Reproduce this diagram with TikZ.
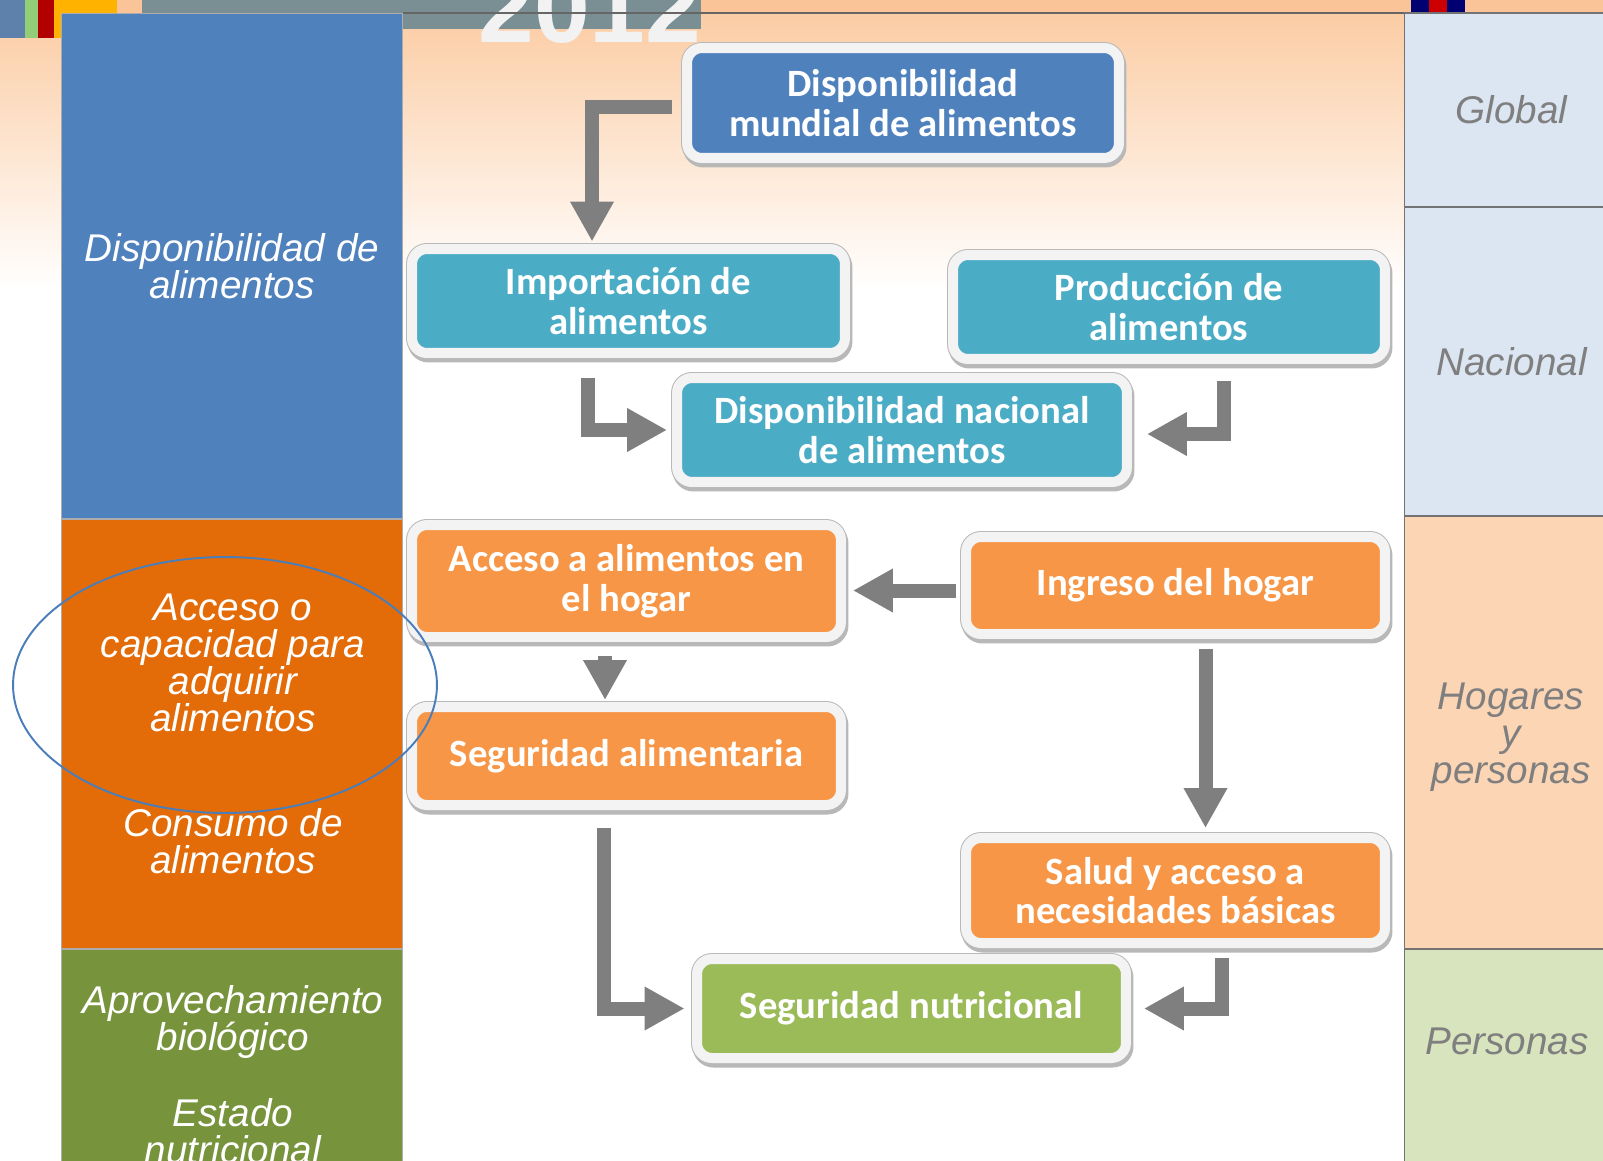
\documentclass[tikz,border=0pt]{standalone}
\usepackage{fontspec}
\setmainfont{Carlito}
\newfontfamily\arialfont{Liberation Sans}
\usetikzlibrary{arrows.meta, calc, positioning}
\definecolor{peachtop}{RGB}{251,202,160}
\definecolor{bandpeach}{RGB}{250,196,152}
\definecolor{barslate}{RGB}{122,143,148}
\definecolor{colblue}{RGB}{79,129,189}
\definecolor{colorange}{RGB}{227,108,9}
\definecolor{colgreen}{RGB}{119,147,60}
\definecolor{boxblue}{RGB}{79,129,189}
\definecolor{boxteal}{RGB}{75,172,198}
\definecolor{boxorange}{RGB}{247,150,70}
\definecolor{boxgreen}{RGB}{155,187,89}
\definecolor{lvlblue}{RGB}{220,230,242}
\definecolor{lvlpeach}{RGB}{252,213,181}
\definecolor{lvlgreen}{RGB}{215,228,189}
\definecolor{arrowgray}{RGB}{127,127,127}
\definecolor{framewhite}{RGB}{243,243,243}
\definecolor{ringblue}{RGB}{74,126,187}
\newcommand{\boxfont}{\fontsize{22}{22.5}\selectfont\bfseries}
\newcommand{\sidefont}{\arialfont\itshape\fontsize{22}{21}\selectfont}

\begin{document}
\begin{tikzpicture}[
    x=0.02cm, y=-0.02cm,
    flowbox/.style={rectangle, rounded corners=0.3cm, fill=#1, draw=framewhite,
                    line width=0.2cm, text=white, align=center, font=\boxfont, inner sep=0pt,
                    preaction={draw=black!28, line width=0.24cm,
                               transform canvas={xshift=0.03cm, yshift=-0.07cm}},
                    preaction={draw=gray!55, line width=0.24cm}},
    sideband/.style={rectangle, draw=gray!65, line width=0.6pt, text=white,
                     align=center, font=\sidefont, minimum width=6.84cm},
    levelcell/.style={rectangle, draw=black!55, line width=0.6pt, text=arrowgray,
                      align=center, font=\sidefont, minimum width=4.3cm},
    blockarrow/.style={draw=arrowgray, line width=0.28cm,
                       -{Triangle[length=0.8cm, width=0.82cm]}}
]
\useasboundingbox (0,0) rectangle (1603,1160);
\clip (0,0) rectangle (1603,1160);
% background and header remnants
\fill[white] (0,0) rectangle (1603,1160);
\shade[top color=peachtop, bottom color=white] (0,0) rectangle (1603,290);
\fill[bandpeach] (0,0) rectangle (1603,13);
\fill[colblue!70!gray] (0,0) rectangle (25,38);
\fill[boxteal!60!yellow] (25,0) rectangle (38,38);
\fill[red!70!black] (38,0) rectangle (54,38);
\fill[orange!60!yellow] (54,0) rectangle (117,38);
\fill[barslate] (142,0) rectangle (701,29);
\node[font=\arialfont\bfseries\fontsize{57}{57}\selectfont, text=gray!10, anchor=base]
    (yeartag) at (590,42) {2012};
\fill[blue!45!black] (1411,0) rectangle (1429,13);
\fill[red!80!black] (1429,0) rectangle (1447,13);
\fill[blue!45!black] (1447,0) rectangle (1465,13);
\draw[black!60, line width=0.6pt] (403,13) -- (1404,13);

% left column: dimensions
\node[sideband, fill=colblue, minimum height=10.12cm] (availband) at (232,266)
    {Disponibilidad de\\alimentos};
\node[sideband, fill=colorange, minimum height=8.6cm] (accessband) at (232,734) {};
\node[sideband, fill=colgreen, minimum height=5cm] (useband) at (232,1074) {};
\node[text=white, font=\sidefont, align=center] (accesstxt) at (233,663)
    {Acceso o\\capacidad para\\adquirir\\alimentos};
\node[text=white, font=\sidefont, align=center] (consumetxt) at (233,841)
    {Consumo de\\alimentos};
\node[text=white, font=\sidefont, align=center] (biotxt) at (233,1022)
    {Aprovechamiento\\biológico};
\node[text=white, font=\sidefont, align=center] (statetxt) at (233,1131)
    {Estado\\nutricional};

% right column: levels
\node[levelcell, fill=lvlblue, minimum height=3.88cm] (globalcell) at (1511.5,110) {Global};
\node[levelcell, fill=lvlblue, minimum height=6.18cm] (natcell) at (1511.5,361.5) {Nacional};
\node[levelcell, fill=lvlpeach, minimum height=8.66cm] (homecell) at (1511.5,732.5) {};
\node[text=arrowgray, font=\sidefont, align=center] (hometxt) at (1511,737) {Hogares\\y\\personas};
\node[levelcell, fill=lvlgreen, minimum height=5cm] (personcell) at (1511.5,1074) {};
\node[text=arrowgray, font=\sidefont] (persontxt) at (1507,1041) {Personas};

% flow boxes
\node[flowbox=boxblue, minimum width=8.64cm, minimum height=2.2cm] (mund) at (903,103)
    {Disponibilidad\\mundial de alimentos};
\node[flowbox=boxteal, minimum width=8.66cm, minimum height=2.08cm] (imp) at (628.5,301)
    {Importación de\\alimentos};
\node[flowbox=boxteal, minimum width=8.64cm, minimum height=2.08cm] (prod) at (1169,307)
    {Producción de\\alimentos};
\node[flowbox=boxteal, minimum width=9.0cm, minimum height=2.08cm] (nac) at (902,430)
    {Disponibilidad nacional\\de alimentos};
\node[flowbox=boxorange, minimum width=8.58cm, minimum height=2.24cm] (acc) at (626.5,581)
    {Acceso a alimentos en\\el hogar};
\node[flowbox=boxorange, minimum width=8.38cm, minimum height=1.94cm] (ing) at (1175.5,585.5)
    {Ingreso del hogar};
\node[flowbox=boxorange, minimum width=8.58cm, minimum height=1.96cm] (segal) at (626.5,756)
    {Seguridad alimentaria};
\node[flowbox=boxorange, minimum width=8.38cm, minimum height=2.1cm] (sal) at (1175.5,890.5)
    {Salud y acceso a\\necesidades básicas};
\node[flowbox=boxgreen, minimum width=8.58cm, minimum height=1.98cm] (nut) at (911.5,1008.5)
    {Seguridad nutricional};

% highlight ring over the access dimension
\draw[ringblue, line width=1.1pt] (225,685) ellipse [x radius=4.24cm, y radius=2.56cm];

% connectors
\coordinate (ingL) at ([xshift=-0.1cm, yshift=-0.1cm]ing.west);
\coordinate (accR) at ([xshift=0.14cm]acc.east);
\draw[blockarrow] ([xshift=-0.2cm, yshift=-0.08cm]mund.west) -| ([xshift=-0.73cm, yshift=0.05cm]imp.north);
\draw[blockarrow] ([xshift=-0.81cm, yshift=-0.4cm]imp.south) |- ([xshift=-0.1cm]nac.west);
\draw[blockarrow] ([xshift=1.1cm, yshift=-0.35cm]prod.south) |- ([xshift=0.3cm, yshift=-0.08cm]nac.east);
\draw[blockarrow] (ingL) -- (ingL -| accR);
\draw[blockarrow] ([xshift=-0.43cm, yshift=-0.28cm]acc.south) -- ([xshift=-0.43cm, yshift=0.04cm]segal.north);
\draw[blockarrow] ([xshift=0.6cm, yshift=-0.2cm]ing.south) -- ([xshift=0.6cm, yshift=0.1cm]sal.north);
\draw[blockarrow] ([xshift=-0.45cm, yshift=-0.36cm]segal.south) |- ([xshift=-0.15cm]nut.west);
\draw[blockarrow] ([xshift=0.93cm, yshift=-0.2cm]sal.south) |- ([xshift=0.26cm]nut.east);
\end{tikzpicture}
\end{document}
